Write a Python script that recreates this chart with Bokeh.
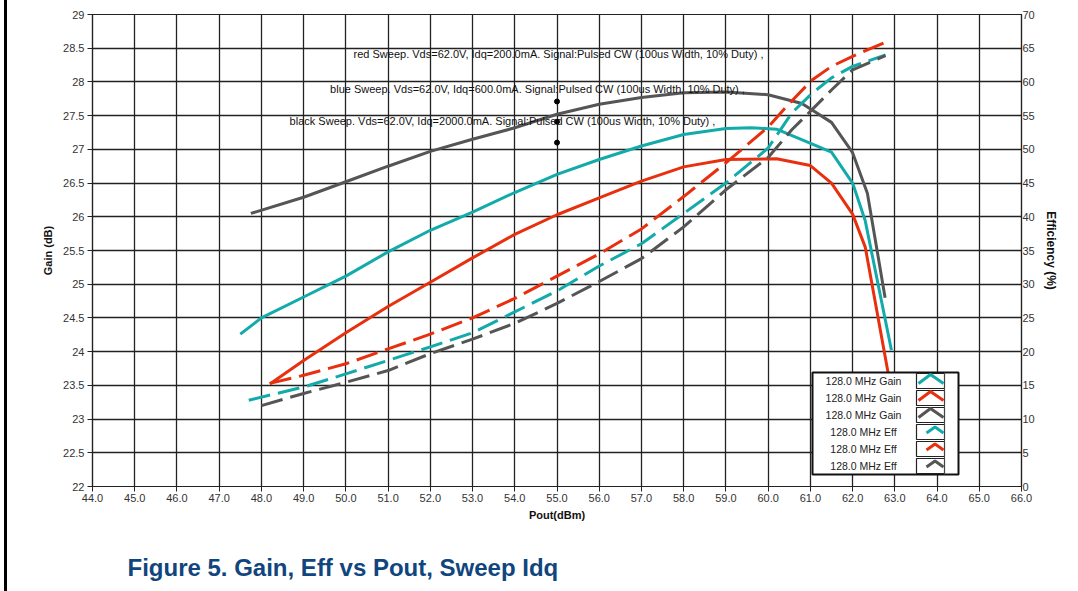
from bokeh.plotting import figure
from bokeh.models import Range1d, LinearAxis, FixedTicker, Title
from bokeh.core.properties import value
from bokeh.embed import file_html
from bokeh.resources import INLINE

# ---------------- data ----------------
pout_gain_teal = [47.5, 48.0, 49.0, 50.0, 51.0, 52.0, 53.0, 54.0, 55.0, 56.0, 57.0, 58.0, 59.0, 59.6, 60.2, 61.5, 62.0, 62.3, 62.92]
gain_teal = [24.26, 24.5, 24.81, 25.12, 25.48, 25.8, 26.07, 26.36, 26.63, 26.85, 27.05, 27.22, 27.31, 27.32, 27.3, 26.96, 26.5, 25.94, 24.02]

pout_gain_red = [48.2, 49.0, 50.0, 51.0, 52.0, 53.0, 54.0, 55.0, 56.0, 57.0, 58.0, 59.0, 60.2, 61.0, 61.5, 62.0, 62.3, 62.86, 63.0]
gain_red = [23.52, 23.87, 24.28, 24.67, 25.03, 25.39, 25.74, 26.03, 26.28, 26.53, 26.74, 26.85, 26.86, 26.76, 26.5, 26.04, 25.55, 23.62, 23.1]

pout_gain_black = [47.75, 49.0, 50.0, 51.0, 52.0, 53.0, 54.0, 55.0, 56.0, 57.0, 58.0, 59.0, 60.0, 60.8, 61.5, 62.0, 62.35, 62.77]
gain_black = [26.05, 26.29, 26.52, 26.75, 26.97, 27.15, 27.32, 27.52, 27.67, 27.77, 27.84, 27.85, 27.81, 27.68, 27.4, 26.95, 26.35, 24.8]

pout_eff_teal = [47.7, 49.0, 50.0, 51.0, 52.0, 53.0, 54.0, 55.0, 56.0, 57.0, 58.0, 59.0, 60.0, 60.56, 61.04, 61.5, 62.0, 62.78]
eff_teal = [12.8, 14.75, 16.7, 18.7, 20.7, 22.8, 25.9, 29.0, 32.7, 36.0, 40.5, 45.0, 50.2, 55.4, 58.3, 60.6, 62.3, 64.0]

pout_eff_red = [48.2, 49.0, 50.0, 51.0, 52.0, 53.0, 54.0, 55.0, 56.0, 57.0, 58.0, 59.0, 60.0, 60.5, 61.04, 61.5, 62.0, 62.78]
eff_red = [15.3, 16.5, 18.2, 20.4, 22.6, 25.0, 27.9, 31.2, 34.5, 38.2, 43.0, 48.0, 53.3, 56.8, 60.3, 62.3, 63.8, 65.9]

pout_eff_black = [48.0, 49.0, 50.0, 51.0, 52.0, 53.0, 54.0, 55.0, 56.0, 57.0, 58.0, 59.0, 60.0, 60.56, 61.04, 61.5, 62.0, 62.78]
eff_black = [12.0, 13.8, 15.45, 17.2, 19.7, 21.85, 24.2, 27.15, 30.4, 33.8, 38.5, 44.0, 48.8, 52.9, 55.9, 58.8, 61.8, 63.9]

marker_pout = [55.0, 55.0, 55.0]
marker_gain = [27.71, 27.41, 27.10]

x_ticks = [44.0, 45.0, 46.0, 47.0, 48.0, 49.0, 50.0, 51.0, 52.0, 53.0, 54.0, 55.0,
           56.0, 57.0, 58.0, 59.0, 60.0, 61.0, 62.0, 63.0, 64.0, 65.0, 66.0]
x_tick_labels = ["44.0", "45.0", "46.0", "47.0", "48.0", "49.0", "50.0", "51.0", "52.0", "53.0", "54.0", "55.0",
                 "56.0", "57.0", "58.0", "59.0", "60.0", "61.0", "62.0", "63.0", "64.0", "65.0", "66.0"]
gain_ticks = [22.0, 22.5, 23.0, 23.5, 24.0, 24.5, 25.0, 25.5, 26.0, 26.5, 27.0, 27.5, 28.0, 28.5, 29.0]
gain_tick_labels = ["22", "22.5", "23", "23.5", "24", "24.5", "25", "25.5", "26", "26.5", "27", "27.5", "28", "28.5", "29"]
eff_ticks = [0, 5, 10, 15, 20, 25, 30, 35, 40, 45, 50, 55, 60, 65, 70]
eff_tick_labels = ["0", "5", "10", "15", "20", "25", "30", "35", "40", "45", "50", "55", "60", "65", "70"]

annotations = [
    "red Sweep. Vds=62.0V, Idq=200.0mA. Signal:Pulsed CW (100us Width, 10% Duty) ,",
    "blue Sweep. Vds=62.0V, Idq=600.0mA. Signal:Pulsed CW (100us Width, 10% Duty) ,",
    "black Sweep. Vds=62.0V, Idq=2000.0mA. Signal:Pulsed CW (100us Width, 10% Duty) ,",
]
legend_labels = ["128.0 MHz Gain", "128.0 MHz Gain", "128.0 MHz Gain",
                 "128.0 MHz Eff", "128.0 MHz Eff", "128.0 MHz Eff"]
caption = "Figure 5. Gain, Eff vs Pout, Sweep Idq"

TEAL = "#13AAAA"
RED = "#E8300F"
DARK = "#555555"
GRID = "#222222"
FONT = "Liberation Sans"

X_MIN, X_MAX = 44.0, 66.0
Y_MIN, Y_MAX = 22.0, 29.0
W, H = 1078, 591
PAGE_OFF = 7  # page border drawn via CSS on the left
FL, FR, FT, FB = 92, 1021, 14, 486

p = figure(width=W - PAGE_OFF, height=H, x_range=Range1d(X_MIN, X_MAX), y_range=Range1d(Y_MIN, Y_MAX),
           output_backend="svg", toolbar_location=None,
           min_border_left=FL - PAGE_OFF, min_border_right=W - FR, min_border_top=FT,
           min_border_bottom=H - FB,
           background_fill_color="white", border_fill_color="white")
p.styles = {"margin-left": "4px", "border-left": "3px solid black"}
p.extra_y_ranges = {"eff": Range1d(0, 70)}

# axes
def style_axis(ax):
    ax.axis_line_color = "#222222"
    ax.axis_line_width = 1.2
    ax.major_tick_line_color = "#222222"
    ax.minor_tick_line_color = None
    ax.major_label_text_font = FONT
    ax.major_label_text_font_size = "11px"
    ax.major_label_text_color = "#333333"
    ax.axis_label_text_font = FONT
    ax.axis_label_text_font_style = "bold"
    ax.axis_label_text_color = "#111111"

xa = p.xaxis[0]
xa.ticker = FixedTicker(ticks=x_ticks)
xa.major_label_overrides = dict(zip(x_ticks, x_tick_labels))
xa.axis_label = "Pout(dBm)"
style_axis(xa)
xa.major_tick_out = 5
xa.major_tick_in = 0
xa.major_label_standoff = 2
xa.axis_label_standoff = 4
xa.axis_label_text_font_size = "11px"

ya = p.yaxis[0]
ya.ticker = FixedTicker(ticks=gain_ticks)
ya.major_label_overrides = dict(zip(gain_ticks, gain_tick_labels))
ya.axis_label = "Gain (dB)"
style_axis(ya)
ya.major_tick_out = 5
ya.major_tick_in = 0
ya.major_label_standoff = 3
ya.axis_label_standoff = 6
ya.axis_label_text_font_size = "11px"

ra = LinearAxis(y_range_name="eff", axis_label="Efficiency (%)")
ra.ticker = FixedTicker(ticks=eff_ticks)
ra.major_label_overrides = dict(zip(eff_ticks, eff_tick_labels))
style_axis(ra)
ra.major_tick_out = 0
ra.major_tick_in = 4
ra.major_label_standoff = 1
ra.axis_label_standoff = 6
ra.axis_label_text_font_size = "12px"
p.add_layout(ra, "right")

p.xgrid.ticker = FixedTicker(ticks=x_ticks)
p.ygrid.ticker = FixedTicker(ticks=gain_ticks)
for g in (p.xgrid[0], p.ygrid[0]):
    g.grid_line_color = GRID
    g.grid_line_width = 1.3
p.outline_line_color = GRID
p.outline_line_width = 1.2

# data lines
p.line(pout_gain_teal, gain_teal, line_color=TEAL, line_width=3)
p.line(pout_gain_red, gain_red, line_color=RED, line_width=3)
p.line(pout_gain_black, gain_black, line_color=DARK, line_width=3)
p.line(pout_eff_teal, eff_teal, y_range_name="eff", line_color=TEAL, line_width=3, line_dash="22 8")
p.line(pout_eff_red, eff_red, y_range_name="eff", line_color=RED, line_width=3, line_dash="22 8")
p.line(pout_eff_black, eff_black, y_range_name="eff", line_color=DARK, line_width=3, line_dash="22 8")

p.scatter(marker_pout, marker_gain, size=5, color="black")

# annotation texts (positions in pixel space converted to data)
def px2x(px):
    return X_MIN + (px - FL) / (FR - FL) * (X_MAX - X_MIN)

def px2y(py):
    return Y_MAX - (py - FT) / (FB - FT) * (Y_MAX - Y_MIN)

ann_cx = [558, 537, 502]
ann_cy = [53, 88, 120]
p.text([px2x(v) for v in ann_cx], [px2y(v) for v in ann_cy], text=annotations,
       text_font=value(FONT), text_font_size="11px", text_color="#111111",
       text_align="center", text_baseline="middle")

# legend box (drawn as glyphs so it sits above the curves)
LL, LR, LT, LB = 812, 958, 372, 474
SW_L, SW_R = 916, 944
row_h = (LB - LT) / 6.0
p.quad(left=[px2x(LL)], right=[px2x(LR)], top=[px2y(LT)], bottom=[px2y(LB)],
       fill_color="white", line_color="#111111", line_width=2)
cells_top = [px2y(LT + i * row_h + 1) for i in range(6)]
cells_bot = [px2y(LT + (i + 1) * row_h - 1) for i in range(6)]
p.quad(left=[px2x(SW_L)] * 6, right=[px2x(SW_R)] * 6, top=cells_top, bottom=cells_bot,
       fill_color="white", line_color="#222222", line_width=1.2)
p.line([px2x(SW_R), px2x(SW_R)], [px2y(LT), px2y(LB)], line_color="#444444", line_width=1)

swatch_colors = [TEAL, RED, DARK, TEAL, RED, DARK]
for i, c in enumerate(swatch_colors):
    yc = LT + (i + 0.5) * row_h
    if i < 3:
        xs = [SW_L + 2, (SW_L + SW_R) / 2, SW_R - 1]
        ys = [yc + 2.5, yc - 6.5, yc + 2.5]
    else:
        xs = [SW_L + 10, SW_L + 18.5, SW_R - 1]
        ys = [yc + 1, yc - 5, yc + 1]
    p.line([px2x(v) for v in xs], [px2y(v) for v in ys], line_color=c, line_width=3)

p.text([px2x(863)] * 6, [px2y(LT + (i + 0.5) * row_h) for i in range(6)], text=legend_labels,
       text_font=value(FONT), text_font_size="10.5px", text_color="#222222",
       text_align="center", text_baseline="middle")

# spacer between x axis and caption, then the caption
spacer = Title(text=" ", text_font_size="1px", standoff=24)
p.add_layout(spacer, "below")
cap = Title(text=caption, align="left", offset=127 - FL, standoff=2,
            text_font=FONT, text_font_style="bold", text_font_size="24px",
            text_color="#10467D")
p.add_layout(cap, "below")

open("out.html", "w").write(file_html(p, INLINE))
